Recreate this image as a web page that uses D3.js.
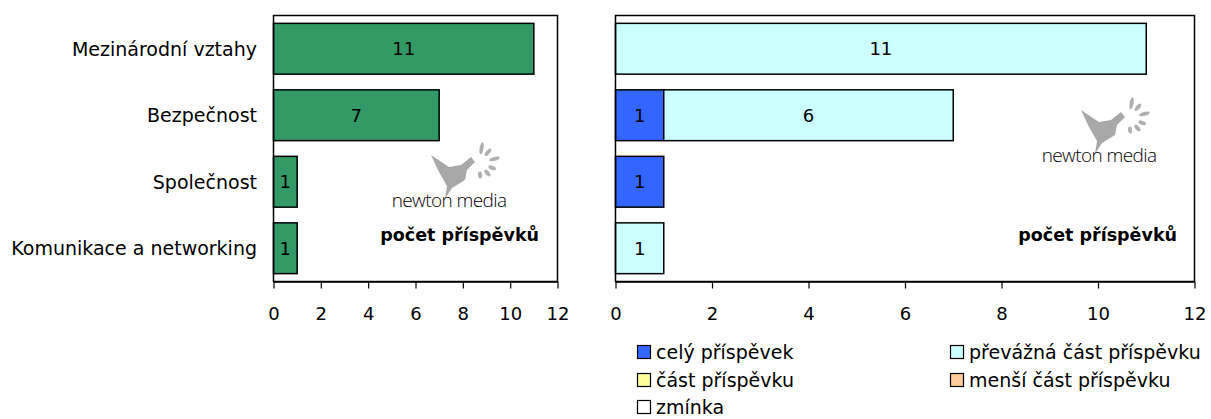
<!DOCTYPE html>
<html>
<head>
<meta charset="utf-8">
<script src="https://cdn.jsdelivr.net/npm/d3@7"></script>
<style>
  body { margin: 0; background: #fff; }
  svg text { font-family: "DejaVu Sans", sans-serif; fill: #000; }
</style>
</head>
<body>
<div id="chartArea"></div>
<script>
// categories top to bottom
var categories = ['Mezinárodní vztahy', 'Bezpečnost', 'Společnost', 'Komunikace a networking'];

// left chart: number of articles
var totals = [11, 7, 1, 1];

// right chart: split by how much of the article is about the topic
var seriesNames = ['celý příspěvek', 'převážná část příspěvku', 'část příspěvku', 'menší část příspěvku', 'zmínka'];
var celyValues     = [0, 1, 1, 0];
var prevaznaValues = [11, 6, 0, 1];
var castValues     = [0, 0, 0, 0];
var mensiValues    = [0, 0, 0, 0];
var zminkaValues   = [0, 0, 0, 0];

var tickValues = [0, 2, 4, 6, 8, 10, 12];

var seriesColors = ['#3366ff', '#ccffff', '#ffff99', '#ffcc99', '#ffffff'];

var W = 1211, H = 419;

var svg = d3.select('#chartArea').append('svg')
    .attr('width', W)
    .attr('height', H);

var plotTop = 15.5, plotBottom = 281.5;

var yScale = d3.scaleBand()
    .domain(categories)
    .range([plotTop, plotBottom])
    .paddingInner(0.236)
    .paddingOuter(0.118);

function frame(x0, x1) {
    svg.append('rect')
        .attr('x', x0).attr('y', plotTop)
        .attr('width', x1 - x0).attr('height', plotBottom - plotTop)
        .attr('fill', 'none')
        .attr('stroke', '#000')
        .attr('stroke-width', 1.5);
}

function axis(xScale) {
    var g = svg.append('g')
        .attr('transform', 'translate(0,' + plotBottom + ')')
        .call(d3.axisBottom(xScale).tickValues(tickValues).tickSize(7).tickSizeOuter(0).tickPadding(19));
    g.select('.domain').attr('stroke', '#000').attr('stroke-width', 1.5);
    g.selectAll('.tick line').attr('stroke', '#000').attr('stroke-width', 1.2);
    g.selectAll('.tick text').style('font-size', '18px').attr('fill', '#000');
}

function watermark(x, y) {
    var g = svg.append('g').attr('transform', 'translate(' + x + ',' + y + ')');
    // bird
    g.append('path')
        .attr('d', 'M0,-52 L18,-40 L30,-42 L40,-50 L44,-45 L36,-37 L34,-27 L21,-19 L14,-8 L16,-21 L8,-35 Z')
        .attr('fill', '#a8a8a8');
    // sparks
    var sparks = [[-80, 15, 6], [-50, 14, 4.5], [-15, 16, 5.5], [20, 14, 4], [50, 13, 4], [85, 12, 3.5]];
    sparks.forEach(function (s) {
        var a = s[0] * Math.PI / 180;
        var cx = 48 + Math.cos(a) * s[1], cy = -44 + Math.sin(a) * s[1];
        g.append('ellipse')
            .attr('cx', cx)
            .attr('cy', cy)
            .attr('rx', s[2]).attr('ry', 2)
            .attr('transform', 'rotate(' + s[0] + ',' + cx + ',' + cy + ')')
            .attr('fill', '#b0b0b0');
    });
    g.append('text')
        .attr('x', 18).attr('y', 0)
        .attr('text-anchor', 'middle')
        .style('font-family', '"Open Sans", sans-serif')
        .style('font-weight', 300)
        .style('font-size', '19px')
        .style('letter-spacing', '-0.6px')
        .attr('fill', '#b8b8b8')
        .text('newton media');
}

// ---------- left chart ----------
var xLeft = d3.scaleLinear().domain([0, 12]).range([273.5, 557.5]);

watermark(431, 207);

svg.selectAll('rect.bar')
    .data(totals)
    .enter()
    .append('rect')
    .attr('class', 'bar')
    .attr('x', xLeft(0))
    .attr('y', function (d, i) { return yScale(categories[i]); })
    .attr('width', function (d) { return xLeft(d) - xLeft(0); })
    .attr('height', yScale.bandwidth())
    .attr('fill', '#339966')
    .attr('stroke', '#000')
    .attr('stroke-width', 1.5);

svg.selectAll('text.barlabel')
    .data(totals)
    .enter()
    .append('text')
    .attr('class', 'barlabel')
    .attr('x', function (d) { return (xLeft(0) + xLeft(d)) / 2; })
    .attr('y', function (d, i) { return yScale(categories[i]) + yScale.bandwidth() / 2; })
    .attr('dy', '0.36em')
    .attr('text-anchor', 'middle')
    .style('font-size', '18px')
    .text(function (d) { return d; });

svg.selectAll('text.cat')
    .data(categories)
    .enter()
    .append('text')
    .attr('class', 'cat')
    .attr('x', 257)
    .attr('y', function (d) { return yScale(d) + yScale.bandwidth() / 2; })
    .attr('dy', '0.36em')
    .attr('text-anchor', 'end')
    .style('font-size', '19px')
    .text(function (d) { return d; });

frame(273.5, 557.5);
axis(xLeft);

svg.append('text')
    .attr('x', 539).attr('y', 241)
    .attr('text-anchor', 'end')
    .style('font-size', '17.5px')
    .style('font-weight', 'bold')
    .text('počet příspěvků');

// ---------- right chart ----------
var xRight = d3.scaleLinear().domain([0, 12]).range([615.5, 1194.5]);

watermark(1081, 162);

var table = categories.map(function (c, i) {
    return {
        cat: c,
        s0: celyValues[i],
        s1: prevaznaValues[i],
        s2: castValues[i],
        s3: mensiValues[i],
        s4: zminkaValues[i]
    };
});
var stack = d3.stack().keys(['s0', 's1', 's2', 's3', 's4']);
var layers = stack(table);

var segs = [];
layers.forEach(function (layer, k) {
    layer.forEach(function (d) {
        if (d[1] - d[0] > 0) segs.push({k: k, cat: d.data.cat, x0: d[0], x1: d[1]});
    });
});

svg.selectAll('rect.seg')
    .data(segs)
    .enter()
    .append('rect')
    .attr('class', 'seg')
    .attr('x', function (d) { return xRight(d.x0); })
    .attr('y', function (d) { return yScale(d.cat); })
    .attr('width', function (d) { return xRight(d.x1) - xRight(d.x0); })
    .attr('height', yScale.bandwidth())
    .attr('fill', function (d) { return seriesColors[d.k]; })
    .attr('stroke', '#000')
    .attr('stroke-width', 1.5);

svg.selectAll('text.seglabel')
    .data(segs)
    .enter()
    .append('text')
    .attr('class', 'seglabel')
    .attr('x', function (d) { return (xRight(d.x0) + xRight(d.x1)) / 2; })
    .attr('y', function (d) { return yScale(d.cat) + yScale.bandwidth() / 2; })
    .attr('dy', '0.36em')
    .attr('text-anchor', 'middle')
    .style('font-size', '18px')
    .text(function (d) { return d.x1 - d.x0; });

frame(615.5, 1194.5);
axis(xRight);

svg.append('text')
    .attr('x', 1177).attr('y', 241)
    .attr('text-anchor', 'end')
    .style('font-size', '17.5px')
    .style('font-weight', 'bold')
    .text('počet příspěvků');

// ---------- legend ----------
var legendPos = [[637, 352], [950, 352], [637, 380], [950, 380], [637, 407]];
var legendOrder = [0, 1, 2, 3, 4];

var leg = svg.selectAll('g.leg')
    .data(legendOrder)
    .enter()
    .append('g')
    .attr('class', 'leg')
    .attr('transform', function (d, i) { return 'translate(' + legendPos[i][0] + ',' + legendPos[i][1] + ')'; });

leg.append('rect')
    .attr('x', 0.5).attr('y', -6.5)
    .attr('width', 13).attr('height', 13)
    .attr('fill', function (d) { return seriesColors[d]; })
    .attr('stroke', '#000')
    .attr('stroke-width', 1.2);

leg.append('text')
    .attr('x', 19).attr('y', 0)
    .attr('dy', '0.36em')
    .style('font-size', '19px')
    .text(function (d) { return seriesNames[d]; });
</script>
</body>
</html>
